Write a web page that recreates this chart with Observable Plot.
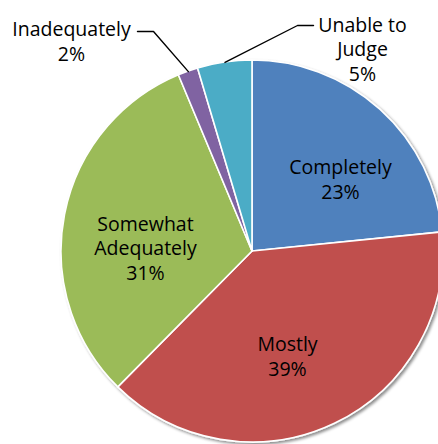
<!DOCTYPE html>
<html>
<head>
<meta charset="utf-8">
<script src="https://cdn.jsdelivr.net/npm/d3@7"></script>
<script src="https://cdn.jsdelivr.net/npm/@observablehq/plot@0.6"></script>
<style>
  html, body { margin: 0; padding: 0; background: #fff; }
  svg { display: block; }
</style>
</head>
<body>
<div id="chart"></div>
<script>
// ---- data ----
const categories = ["Completely", "Mostly", "Somewhat Adequately", "Inadequately", "Unable to Judge"];
const labelNames = ["Completely", "Mostly", "Somewhat\nAdequately", "Inadequately", "Unable to\nJudge"];
const values = [23.4, 39.0, 31.3, 1.7, 4.6];
const colors = ["#4F81BD", "#C0504D", "#9BBB59", "#8064A2", "#4BACC6"];

// ---- layout (pixel offsets from pie center) ----
const R = 191;
const labelPos = [[88, -73], [35, 104], [-107, -4], [-181, -211], [110, -203]];
const leaderStart = { 3: [[-115, -220], [-99, -220]], 4: [[61, -226], [45, -226]] };

const arcs = d3.pie().sort(null).value(d => d.value)(
  categories.map((c, i) => ({ category: c, value: values[i], color: colors[i] }))
);

const labels = arcs.map((a, i) => ({
  x: labelPos[i][0],
  y: labelPos[i][1],
  text: labelNames[i] + "\n" + Math.round(values[i]) + "%"
}));

const leaders = [];
for (const k of Object.keys(leaderStart)) {
  const a = arcs[+k];
  const mid = (a.startAngle + a.endAngle) / 2;
  leaderStart[k].forEach(p => leaders.push({ g: k, x: p[0], y: p[1] }));
  leaders.push({ g: k, x: R * Math.sin(mid), y: -R * Math.cos(mid) });
}

const pieMark = (index, scales) => {
  const cx = scales.x(0), cy = scales.y(0);
  const r = scales.x(R) - cx;
  const g = d3.create("svg:g");
  const f = g.append("defs").append("filter").attr("id", "pieShadow")
    .attr("x", "-10%").attr("y", "-10%").attr("width", "130%").attr("height", "130%");
  f.append("feDropShadow").attr("dx", 2).attr("dy", 2).attr("stdDeviation", 1.6)
    .attr("flood-color", "#000").attr("flood-opacity", 0.45);
  const arcGen = d3.arc().innerRadius(0).outerRadius(r);
  g.append("g").attr("transform", `translate(${cx},${cy})`).attr("filter", "url(#pieShadow)")
    .selectAll("path").data(arcs).join("path")
    .attr("d", arcGen)
    .attr("fill", d => d.data.color)
    .attr("stroke", "#fff")
    .attr("stroke-width", 1.6)
    .attr("stroke-linejoin", "round");
  return g.node();
};

const chart = Plot.plot({
  width: 438,
  height: 444,
  margin: 0,
  style: { background: "#fff", overflow: "hidden" },
  x: { domain: [-252, 186], range: [0, 438], axis: null },
  y: { domain: [-251, 193], range: [0, 444], axis: null },
  marks: [
    pieMark,
    Plot.line(leaders, { x: "x", y: "y", z: "g", stroke: "#000", strokeWidth: 1.4 }),
    Plot.text(labels, {
      x: "x", y: "y", text: "text",
      fontSize: 19.5, fontFamily: "Open Sans", lineHeight: 1.27,
      fill: "#000", textAnchor: "middle"
    })
  ]
});
document.getElementById("chart").appendChild(chart);
</script>
</body>
</html>
